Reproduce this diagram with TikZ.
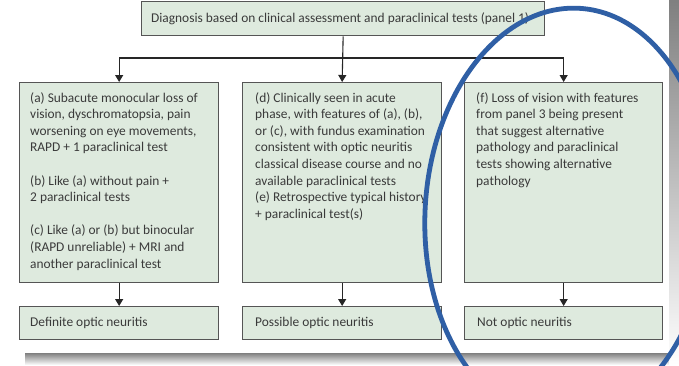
\documentclass[tikz,border=0pt]{standalone}
\usepackage{fontspec}
\setmainfont{Carlito}
\usetikzlibrary{arrows.meta}
\definecolor{boxfill}{HTML}{DEEADE}
\definecolor{boxline}{HTML}{555555}
\definecolor{txtcol}{HTML}{3A3A3A}
\definecolor{ringblue}{HTML}{2F5FA5}
\definecolor{shade}{HTML}{808080}
\tikzset{
  box/.style={draw=boxline, fill=boxfill, line width=1.3pt, inner sep=0pt},
  txt/.style={text=txtcol, font=\fontsize{13.4pt}{16.6pt}\selectfont, align=left, inner sep=0pt, anchor=north west},
  conn/.style={draw=black!85, line width=1.1pt, -{Triangle[length=7pt,width=8pt]}}
}
\begin{document}
\begin{tikzpicture}[x=1pt,y=-1pt]
\useasboundingbox (0,0) rectangle (679,365);
\fill[white] (0,0) rectangle (679,365);
% grey frame parts
\fill[shade] (25,353) rectangle (679,365);
\fill[shade] (669,0) rectangle (679,365);
% top box
\node[box, minimum width=403pt, minimum height=34pt, anchor=north west] (top) at (141,1) {};
\node[txt, anchor=center] (toptxt) at ([xshift=-3pt]top.center) {Diagnosis based on clinical assessment and paraclinical tests (panel 1)};
% criteria boxes
\node[box, minimum width=199pt, minimum height=200pt, anchor=north west] (a) at (19,82) {};
\node[box, minimum width=199pt, minimum height=200pt, anchor=north west] (d) at (242,82) {};
\node[box, minimum width=198pt, minimum height=200pt, anchor=north west] (f) at (464,82) {};
\node[txt] (atxt) at (30,92) {(a) Subacute monocular loss of\\vision, dyschromatopsia, pain\\worsening on eye movements,\\RAPD + 1 paraclinical test\\[16.6pt](b) Like (a) without pain +\\2 paraclinical tests\\[16.6pt](c) Like (a) or (b) but binocular\\(RAPD unreliable) + MRI and\\another paraclinical test};
\node[txt] (dtxt) at (255,92) {(d) Clinically seen in acute\\phase, with features of (a), (b),\\or (c), with fundus examination\\consistent with optic neuritis\\classical disease course and no\\available paraclinical tests\\(e) Retrospective typical history\\+ paraclinical test(s)};
\node[txt] (ftxt) at (476,92) {(f) Loss of vision with features\\from panel 3 being present\\that suggest alternative\\pathology and paraclinical\\tests showing alternative\\pathology};
% outcome boxes
\node[box, minimum width=199pt, minimum height=33pt, anchor=north west] (def) at (19,306) {};
\node[box, minimum width=199pt, minimum height=33pt, anchor=north west] (pos) at (242,306) {};
\node[box, minimum width=198pt, minimum height=33pt, anchor=north west] (not) at (464,306) {};
\node[txt, anchor=west] (deftxt) at (30,323) {Definite optic neuritis};
\node[txt, anchor=west] (postxt) at (255,323) {Possible optic neuritis};
\node[txt, anchor=west] (nottxt) at (477,323) {Not optic neuritis};
% connectors
\coordinate (j) at (top.south |- 0,58);
\draw[conn] (top.south) -- (d.north);
\draw[conn] (j) -| (a.north);
\draw[conn] (j) -| (f.north);
\draw[conn] (a.south) -- (def.north);
\draw[conn] (d.south) -- (pos.north);
\draw[conn] (f.south) -- (not.north);
% blue ring
\begin{scope}
\clip (0,0) rectangle (679,365);
\draw[ringblue, line width=4.8pt, rotate around={-3:(568,215)}] (568,215) ellipse [x radius=143pt, y radius=207pt];
\end{scope}
\end{tikzpicture}
\end{document}
